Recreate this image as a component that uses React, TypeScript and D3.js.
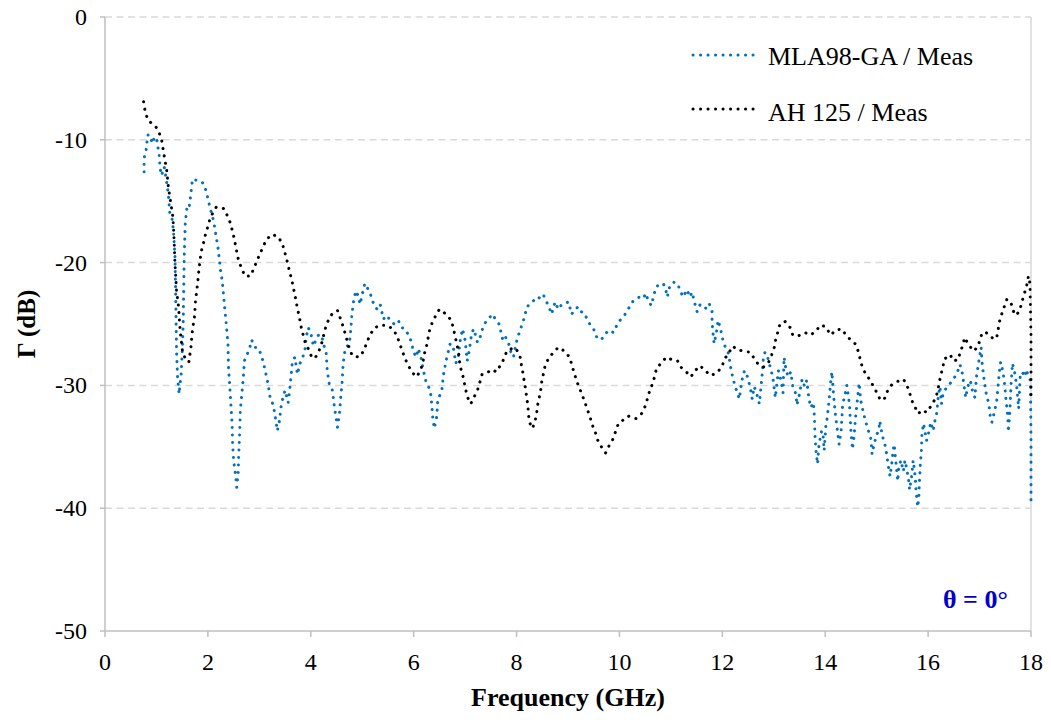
import React from "react";
import * as d3 from "d3";

const xTicks = [0, 2, 4, 6, 8, 10, 12, 14, 16, 18];
const yTicks = [0, -10, -20, -30, -40, -50];
const seriesNames = ["MLA98-GA / Meas", "AH 125 / Meas"];
const seriesColors = ["#0070C0", "#000000"];

// MLA98-GA / Meas  [GHz, dB]
const mlaPoints: [number, number][] = [
  [0.76,-12.6],[0.76,-11.5],[0.80,-10.8],[0.83,-9.6],[0.87,-9.6],[0.92,-10.3],[0.96,-9.8],[1.00,-9.8],[1.02,-10.4],[1.05,-11.1],[1.07,-12.3],[1.10,-12.9],[1.15,-12.2],[1.19,-13.2],[1.23,-14.4],[1.26,-16.0],[1.30,-16.3],[1.33,-17.4],[1.36,-19.5],[1.37,-21.7],[1.38,-24.4],[1.39,-27.2],[1.41,-29.3],[1.44,-30.7],[1.48,-29.1],[1.50,-27.4],[1.52,-25.0],[1.53,-22.3],[1.54,-19.5],[1.56,-16.8],[1.59,-15.6],[1.63,-15.7],[1.67,-14.4],[1.70,-13.2],[1.78,-13.3],[1.88,-13.4],[1.93,-13.7],[1.98,-14.4],[2.04,-15.5],[2.11,-16.6],[2.15,-17.6],[2.20,-18.9],[2.25,-20.8],[2.28,-21.5],[2.32,-23.4],[2.35,-24.7],[2.39,-26.6],[2.40,-28.5],[2.43,-30.4],[2.45,-31.8],[2.47,-33.1],[2.48,-34.8],[2.50,-36.1],[2.54,-37.4],[2.56,-38.3],[2.59,-37.0],[2.60,-35.6],[2.62,-33.7],[2.63,-32.1],[2.66,-30.7],[2.69,-29.3],[2.71,-28.0],[2.75,-27.6],[2.81,-27.0],[2.85,-26.3],[2.92,-26.9],[2.99,-27.0],[3.05,-27.7],[3.11,-28.7],[3.17,-29.9],[3.21,-31.0],[3.27,-31.6],[3.30,-32.3],[3.35,-33.7],[3.39,-32.9],[3.43,-31.5],[3.50,-30.4],[3.56,-31.4],[3.60,-30.0],[3.64,-28.2],[3.69,-27.7],[3.74,-29.1],[3.79,-28.2],[3.84,-27.8],[3.89,-27.0],[3.91,-26.1],[3.95,-25.3],[4.00,-25.7],[4.05,-26.8],[4.10,-26.3],[4.15,-25.9],[4.21,-25.9],[4.24,-26.5],[4.30,-27.4],[4.32,-28.8],[4.36,-29.9],[4.41,-30.2],[4.43,-30.7],[4.46,-31.8],[4.49,-32.6],[4.52,-33.4],[4.56,-32.2],[4.58,-31.1],[4.61,-29.7],[4.63,-28.2],[4.67,-27.0],[4.71,-26.8],[4.75,-26.6],[4.78,-25.4],[4.80,-24.2],[4.84,-22.9],[4.88,-22.3],[4.92,-22.7],[4.96,-23.4],[5.01,-22.4],[5.05,-21.7],[5.12,-22.2],[5.18,-22.8],[5.23,-23.5],[5.29,-23.8],[5.35,-23.4],[5.41,-24.6],[5.48,-24.3],[5.54,-24.7],[5.62,-25.0],[5.70,-24.7],[5.77,-25.3],[5.83,-25.4],[5.90,-25.9],[5.96,-26.5],[5.99,-27.2],[6.05,-27.7],[6.09,-27.0],[6.14,-27.7],[6.19,-28.8],[6.24,-29.7],[6.29,-30.1],[6.33,-30.7],[6.35,-31.5],[6.37,-32.6],[6.40,-33.5],[6.45,-32.5],[6.47,-31.1],[6.51,-30.8],[6.55,-30.3],[6.58,-29.1],[6.63,-28.0],[6.67,-27.3],[6.71,-26.6],[6.77,-26.9],[6.82,-28.2],[6.87,-27.6],[6.91,-26.2],[6.95,-25.4],[7.00,-26.3],[7.04,-28.0],[7.08,-27.2],[7.13,-25.7],[7.17,-25.4],[7.24,-26.5],[7.29,-26.1],[7.33,-25.5],[7.39,-24.9],[7.45,-24.6],[7.53,-24.2],[7.59,-24.6],[7.66,-25.0],[7.70,-25.7],[7.74,-26.4],[7.79,-26.1],[7.84,-26.5],[7.89,-27.3],[7.94,-27.7],[7.98,-26.8],[8.02,-26.1],[8.07,-25.5],[8.11,-25.0],[8.15,-24.5],[8.20,-23.6],[8.26,-23.4],[8.33,-23.1],[8.39,-22.8],[8.46,-22.9],[8.52,-22.6],[8.57,-23.1],[8.62,-23.5],[8.68,-24.2],[8.75,-23.2],[8.81,-23.8],[8.88,-23.4],[8.96,-23.3],[9.01,-23.2],[9.07,-24.2],[9.14,-23.8],[9.20,-23.6],[9.26,-24.0],[9.32,-24.1],[9.38,-24.7],[9.45,-25.2],[9.51,-25.5],[9.56,-26.1],[9.62,-26.3],[9.69,-26.1],[9.75,-25.7],[9.82,-25.5],[9.88,-25.7],[9.95,-25.1],[10.01,-24.7],[10.08,-24.4],[10.14,-24.0],[10.21,-23.5],[10.27,-23.1],[10.34,-22.9],[10.40,-22.8],[10.47,-22.9],[10.51,-22.5],[10.56,-23.1],[10.62,-23.5],[10.66,-22.8],[10.71,-22.0],[10.77,-21.8],[10.85,-21.7],[10.89,-22.0],[10.93,-22.8],[10.98,-21.9],[11.05,-21.6],[11.13,-21.7],[11.18,-22.3],[11.24,-22.8],[11.31,-22.2],[11.37,-22.8],[11.41,-22.4],[11.47,-23.4],[11.51,-24.0],[11.57,-23.4],[11.63,-23.5],[11.70,-23.8],[11.75,-23.4],[11.80,-24.0],[11.80,-24.7],[11.81,-25.4],[11.84,-26.6],[11.88,-25.8],[11.92,-24.7],[11.97,-25.5],[12.01,-26.3],[12.05,-26.8],[12.12,-27.4],[12.16,-28.5],[12.20,-29.3],[12.25,-30.1],[12.29,-30.6],[12.33,-31.1],[12.38,-29.6],[12.43,-28.8],[12.48,-29.2],[12.54,-30.1],[12.58,-31.1],[12.62,-30.1],[12.67,-30.7],[12.72,-31.5],[12.77,-29.3],[12.80,-27.7],[12.83,-27.3],[12.88,-27.7],[12.93,-28.5],[12.98,-29.3],[13.03,-31.0],[13.06,-29.9],[13.09,-28.8],[13.14,-29.6],[13.18,-30.6],[13.20,-27.7],[13.24,-28.8],[13.28,-29.3],[13.33,-28.9],[13.37,-30.1],[13.43,-30.7],[13.45,-31.6],[13.50,-30.7],[13.55,-29.5],[13.60,-30.1],[13.64,-29.6],[13.68,-31.0],[13.72,-31.8],[13.77,-31.4],[13.79,-32.6],[13.80,-34.0],[13.82,-35.3],[13.85,-36.4],[13.88,-34.8],[13.93,-33.7],[13.96,-34.2],[13.98,-35.3],[14.01,-33.4],[14.04,-32.6],[14.08,-31.0],[14.11,-29.6],[14.13,-28.9],[14.16,-30.7],[14.19,-32.1],[14.22,-33.1],[14.27,-34.8],[14.31,-33.7],[14.34,-31.5],[14.39,-30.7],[14.42,-30.0],[14.47,-31.5],[14.50,-33.7],[14.53,-35.2],[14.56,-34.2],[14.59,-32.6],[14.63,-31.0],[14.66,-29.8],[14.69,-31.2],[14.74,-32.2],[14.79,-33.0],[14.84,-33.7],[14.89,-34.4],[14.91,-35.6],[14.95,-34.8],[15.00,-34.0],[15.04,-33.7],[15.06,-32.9],[15.11,-34.1],[15.16,-34.8],[15.19,-35.5],[15.22,-36.4],[15.26,-37.4],[15.29,-36.5],[15.32,-35.3],[15.34,-34.8],[15.37,-36.1],[15.41,-37.8],[15.43,-36.7],[15.47,-36.1],[15.52,-37.0],[15.55,-36.1],[15.58,-36.7],[15.62,-37.7],[15.64,-38.5],[15.68,-37.4],[15.71,-36.1],[15.75,-37.5],[15.77,-38.8],[15.80,-39.9],[15.82,-39.1],[15.83,-38.0],[15.85,-36.4],[15.87,-35.3],[15.88,-34.0],[15.91,-33.1],[15.94,-33.8],[15.97,-34.5],[16.02,-33.7],[16.05,-33.0],[16.10,-33.7],[16.14,-32.7],[16.17,-32.2],[16.20,-30.8],[16.23,-30.1],[16.26,-31.5],[16.29,-30.7],[16.34,-30.3],[16.39,-30.0],[16.46,-29.7],[16.52,-29.3],[16.59,-28.7],[16.62,-28.3],[16.67,-29.1],[16.70,-30.1],[16.73,-31.0],[16.77,-30.1],[16.82,-29.6],[16.86,-30.4],[16.91,-31.0],[16.94,-29.3],[16.98,-28.2],[17.01,-27.4],[17.03,-26.9],[17.05,-28.2],[17.09,-29.6],[17.13,-30.7],[17.18,-31.5],[17.21,-32.6],[17.24,-33.0],[17.28,-32.3],[17.33,-31.4],[17.36,-30.1],[17.38,-29.1],[17.41,-28.1],[17.45,-28.8],[17.48,-29.6],[17.51,-31.0],[17.55,-32.6],[17.56,-33.8],[17.59,-32.1],[17.61,-30.1],[17.64,-28.2],[17.69,-29.1],[17.72,-30.0],[17.76,-31.9],[17.79,-29.3],[17.83,-28.9],[17.88,-29.3],[17.91,-28.7],[17.95,-29.3],[17.99,-29.6],[18.0,-34.5],[18.0,-39.9]
];

// AH 125 / Meas  [GHz, dB]
const ahPoints: [number, number][] = [
  [0.75,-6.9],[0.76,-7.2],[0.79,-7.9],[0.855,-8.5],[0.97,-8.8],[1.05,-9.4],[1.10,-10.0],[1.15,-11.3],[1.2,-12.5],[1.23,-13.8],[1.28,-15.2],[1.32,-16.3],[1.34,-17.9],[1.36,-20.1],[1.39,-22.3],[1.43,-23.6],[1.46,-25.5],[1.51,-27.4],[1.59,-28.0],[1.63,-28.1],[1.67,-26.9],[1.70,-25.5],[1.74,-24.4],[1.76,-23.1],[1.80,-21.7],[1.83,-20.4],[1.87,-19.1],[1.91,-18.5],[1.94,-17.9],[1.99,-17.2],[2.03,-16.6],[2.09,-16.0],[2.16,-15.5],[2.31,-15.6],[2.38,-16.2],[2.44,-16.8],[2.51,-18.0],[2.57,-19.3],[2.60,-19.9],[2.66,-20.5],[2.72,-21.1],[2.83,-21.1],[2.95,-19.9],[3.01,-19.3],[3.14,-18.1],[3.25,-17.7],[3.37,-17.9],[3.45,-18.5],[3.53,-19.7],[3.58,-20.6],[3.64,-21.6],[3.68,-22.4],[3.73,-23.5],[3.76,-24.1],[3.79,-24.7],[3.82,-25.4],[3.86,-26.0],[3.89,-26.5],[3.95,-27.0],[4.02,-27.7],[4.08,-27.8],[4.15,-27.3],[4.21,-26.6],[4.28,-25.4],[4.33,-24.8],[4.41,-24.2],[4.52,-23.9],[4.57,-24.5],[4.62,-25.1],[4.67,-25.8],[4.71,-26.4],[4.75,-27.0],[4.81,-27.6],[4.94,-27.7],[5.03,-27.2],[5.09,-26.5],[5.14,-26.0],[5.22,-25.4],[5.33,-25.1],[5.48,-25.1],[5.59,-25.4],[5.67,-25.9],[5.72,-26.5],[5.78,-27.2],[5.83,-27.8],[5.90,-28.4],[5.96,-28.9],[6.06,-29.3],[6.14,-28.7],[6.18,-28.1],[6.21,-27.4],[6.25,-26.8],[6.31,-25.5],[6.36,-24.9],[6.43,-24.3],[6.50,-23.8],[6.63,-24.2],[6.73,-24.7],[6.77,-25.3],[6.80,-25.9],[6.87,-27.2],[6.90,-28.4],[6.95,-29.1],[6.98,-29.7],[7.04,-30.9],[7.11,-31.5],[7.18,-30.9],[7.24,-30.4],[7.29,-29.7],[7.33,-29.1],[7.42,-29.0],[7.52,-28.7],[7.61,-28.9],[7.68,-28.4],[7.76,-27.8],[7.81,-27.2],[7.87,-27.1],[7.94,-26.9],[8.02,-27.2],[8.07,-27.7],[8.10,-28.5],[8.13,-29.1],[8.15,-29.7],[8.18,-30.4],[8.20,-31.1],[8.22,-31.6],[8.23,-32.3],[8.25,-33.0],[8.31,-33.5],[8.36,-32.9],[8.39,-32.3],[8.41,-31.6],[8.44,-31.0],[8.47,-30.4],[8.49,-29.7],[8.52,-29.1],[8.55,-28.5],[8.62,-27.8],[8.70,-27.4],[8.81,-26.9],[8.93,-27.2],[9.03,-27.7],[9.08,-28.4],[9.12,-29.0],[9.20,-30.0],[9.27,-30.7],[9.33,-31.4],[9.38,-32.0],[9.43,-32.6],[9.47,-33.2],[9.53,-33.8],[9.57,-34.4],[9.65,-35.0],[9.73,-35.5],[9.80,-34.9],[9.87,-34.4],[9.93,-33.7],[9.98,-33.1],[10.08,-32.8],[10.17,-32.5],[10.32,-32.7],[10.43,-32.3],[10.50,-31.7],[10.55,-31.0],[10.59,-30.4],[10.64,-29.9],[10.69,-29.2],[10.72,-28.6],[10.81,-28.2],[10.91,-27.7],[11.02,-27.9],[11.13,-28.0],[11.19,-28.5],[11.30,-28.9],[11.39,-29.3],[11.47,-28.8],[11.57,-28.4],[11.67,-28.8],[11.77,-29.2],[11.89,-29.0],[11.99,-28.5],[12.05,-27.8],[12.12,-27.4],[12.20,-26.8],[12.29,-27.1],[12.41,-27.2],[12.54,-27.3],[12.62,-27.8],[12.70,-28.3],[12.80,-28.5],[12.90,-28.1],[12.96,-27.5],[13.01,-26.9],[13.04,-26.2],[13.09,-25.5],[13.12,-25.0],[13.22,-24.8],[13.32,-25.3],[13.37,-25.9],[13.44,-26.0],[13.52,-25.9],[13.61,-25.7],[13.71,-25.9],[13.82,-25.6],[13.90,-25.1],[14.00,-25.2],[14.11,-25.9],[14.20,-25.5],[14.32,-25.4],[14.42,-26.0],[14.50,-26.3],[14.58,-26.6],[14.65,-27.3],[14.68,-27.9],[14.72,-28.5],[14.79,-29.1],[14.88,-29.6],[14.95,-30.2],[15.02,-30.7],[15.07,-31.2],[15.15,-31.1],[15.19,-30.6],[15.28,-30.0],[15.39,-29.7],[15.52,-29.5],[15.58,-29.9],[15.64,-30.6],[15.68,-31.2],[15.75,-31.8],[15.81,-32.3],[15.89,-32.0],[15.97,-32.2],[16.07,-31.6],[16.15,-31.0],[16.19,-30.4],[16.22,-29.7],[16.25,-29.1],[16.29,-28.5],[16.31,-27.9],[16.36,-27.7],[16.43,-27.5],[16.49,-28.0],[16.59,-27.9],[16.62,-27.3],[16.67,-26.8],[16.71,-26.1],[16.79,-26.7],[16.88,-27.2],[16.96,-26.9],[17.01,-26.3],[17.05,-25.7],[17.13,-25.7],[17.23,-26.1],[17.33,-26.2],[17.36,-25.5],[17.38,-24.9],[17.43,-24.2],[17.48,-23.6],[17.53,-23.0],[17.61,-23.2],[17.64,-23.8],[17.70,-24.3],[17.77,-24.0],[17.82,-23.3],[17.85,-22.8],[17.88,-22.4],[17.92,-21.8],[17.95,-21.1],[17.98,-21.7],[18.0,-26.0],[18.0,-31.0]
];

const W = 1051;
const H = 720;
const M = { left: 105, right: 1031, top: 17, bottom: 631 };
const FONT = '"Liberation Serif", "Times New Roman", Times, serif';
const DOTS = "0.1,7.4";

export default function App() {
  const x = d3.scaleLinear().domain([0, 18]).range([M.left, M.right]);
  const y = d3.scaleLinear().domain([-50, 0]).range([M.bottom, M.top]);
  const line = d3
    .line<[number, number]>()
    .x((d) => x(d[0]))
    .y((d) => y(d[1]));

  const series = [mlaPoints, ahPoints];
  const tf = { fontFamily: FONT };

  return (
    <svg
      width={W}
      height={H}
      style={{ position: "absolute", left: 0, top: 0, background: "#fff", fontFamily: FONT }}
    >
      <rect x={0} y={0} width={W} height={H} fill="#fff" />
      {yTicks
        .filter((t) => t !== -50)
        .map((t) => (
          <line
            key={"g" + t}
            x1={M.left}
            x2={M.right}
            y1={y(t)}
            y2={y(t)}
            stroke="#d9d9d9"
            strokeWidth={1.5}
            strokeDasharray="7,4.5"
          />
        ))}
      <line x1={M.left} x2={M.left} y1={M.top} y2={M.bottom} stroke="#bfbfbf" strokeWidth={1.5} />
      <line x1={M.right} x2={M.right} y1={M.top} y2={M.bottom} stroke="#d9d9d9" strokeWidth={1.5} />
      <line x1={M.left} x2={M.right} y1={M.bottom} y2={M.bottom} stroke="#bfbfbf" strokeWidth={1.5} />
      {yTicks.map((t) => (
        <line key={"yt" + t} x1={M.left - 5} x2={M.left} y1={y(t)} y2={y(t)} stroke="#bfbfbf" strokeWidth={1.5} />
      ))}
      {xTicks.map((t) => (
        <line key={"xt" + t} x1={x(t)} x2={x(t)} y1={M.bottom} y2={M.bottom + 6} stroke="#bfbfbf" strokeWidth={1.5} />
      ))}
      {yTicks.map((t) => (
        <text key={"yl" + t} x={87} y={y(t) + 8} textAnchor="end" fontSize={24} fill="#000" style={tf}>
          {t}
        </text>
      ))}
      {xTicks.map((t) => (
        <text key={"xl" + t} x={x(t)} y={670} textAnchor="middle" fontSize={24} fill="#000" style={tf}>
          {t}
        </text>
      ))}
      <text x={568} y={706} textAnchor="middle" fontSize={26} fontWeight="bold" fill="#000" style={tf}>
        Frequency (GHz)
      </text>
      <text
        transform={`translate(35, 324) rotate(-90)`}
        textAnchor="middle"
        fontSize={25}
        fontWeight="bold"
        fill="#000"
        style={tf}
      >
        Γ (dB)
      </text>
      {series.map((pts, i) => (
        <path
          key={"s" + i}
          d={line(pts) || ""}
          fill="none"
          stroke={seriesColors[i]}
          strokeWidth={3}
          strokeLinecap="round"
          strokeLinejoin="round"
          strokeDasharray={DOTS}
        />
      ))}
      {seriesNames.map((name, i) => (
        <g key={"lg" + i}>
          <line
            x1={693}
            x2={759}
            y1={55 + i * 54}
            y2={55 + i * 54}
            stroke={seriesColors[i]}
            strokeWidth={3}
            strokeLinecap="round"
            strokeDasharray={DOTS}
          />
          <text x={768} y={65 + i * 56} fontSize={26} fill="#000" style={tf}>
            {name}
          </text>
        </g>
      ))}
      <text x={943} y={608} fontSize={26} fontWeight="bold" fill="#0000CC" style={tf}>
        θ = 0°
      </text>
    </svg>
  );
}
